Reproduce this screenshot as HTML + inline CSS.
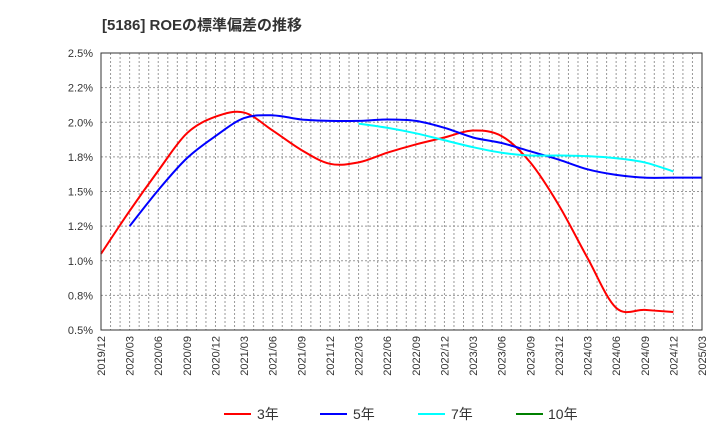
<!DOCTYPE html>
<html><head><meta charset="utf-8"><style>
body{margin:0;background:#fff;font-family:"Liberation Sans","Noto Sans CJK JP",sans-serif}
svg text{font-family:"Liberation Sans","Noto Sans CJK JP",sans-serif}
</style></head><body>
<svg id="c" width="720" height="440">
<text x="102" y="30" font-size="15" font-weight="bold" fill="#333">[5186]  ROEの標準偏差の推移</text>
<g id="grid"></g><g id="series"></g><g id="axes"></g>
<g>
<line x1="224" y1="414" x2="251" y2="414" stroke="#f00" stroke-width="2"/><text x="257" y="419" font-size="14" fill="#333">3年</text>
<line x1="320" y1="414" x2="347" y2="414" stroke="#00f" stroke-width="2"/><text x="353" y="419" font-size="14" fill="#333">5年</text>
<line x1="418" y1="414" x2="445" y2="414" stroke="#0ff" stroke-width="2"/><text x="451" y="419" font-size="14" fill="#333">7年</text>
<line x1="516" y1="414" x2="543" y2="414" stroke="#008000" stroke-width="2"/><text x="548" y="419" font-size="14" fill="#333">10年</text>
</g>
</svg>
<script>
const xLabels=["2019/12","2020/03","2020/06","2020/09","2020/12","2021/03","2021/06","2021/09","2021/12","2022/03","2022/06","2022/09","2022/12","2023/03","2023/06","2023/09","2023/12","2024/03","2024/06","2024/09","2024/12","2025/03"];
const yTicks=[0.5,0.75,1.0,1.25,1.5,1.75,2.0,2.25,2.5];
const yTickLabels=["0.5%","0.8%","1.0%","1.2%","1.5%","1.8%","2.0%","2.2%","2.5%"];
const s3=[1.05,1.36,1.65,1.92,2.04,2.07,1.94,1.80,1.70,1.71,1.78,1.84,1.89,1.94,1.90,1.71,1.40,1.02,0.66,0.645,0.63];
const s3Start=0;
const s5=[1.25,1.51,1.74,1.90,2.03,2.05,2.02,2.01,2.01,2.02,2.01,1.96,1.89,1.85,1.79,1.73,1.66,1.62,1.60,1.60,1.60];
const s5Start=1;
const s7=[1.99,1.96,1.92,1.87,1.82,1.78,1.76,1.76,1.755,1.74,1.71,1.645];
const s7Start=9;
const s10=[];
const s10Start=0;
const L=101,R=702,T=53,B=330;
const xs=i=>L+i*(R-L)/21;
const ys=v=>B-(v-0.5)/2*(B-T);
const NS="http://www.w3.org/2000/svg";
function mk(t,a,p){const e=document.createElementNS(NS,t);for(const k in a)e.setAttribute(k,a[k]);p.appendChild(e);return e;}
const grid=document.getElementById('grid'),axes=document.getElementById('axes'),ser=document.getElementById('series');
for(let m=1;m<63;m++){const x=L+m*(R-L)/63;
const g=mk('line',{x1:x,x2:x,y1:T,y2:B,stroke:'#999','stroke-dasharray':'2,2','stroke-width':1},grid);

}
yTicks.forEach((v,i)=>{const y=ys(v);
const g=mk('line',{x1:L,x2:R,y1:y,y2:y,stroke:'#999','stroke-dasharray':'2,2','stroke-width':1},grid);


const t=mk('text',{x:L-8,y:y+4,'text-anchor':'end','font-size':11,fill:'#333'},axes);t.textContent=yTickLabels[i];

});
xLabels.forEach((l,i)=>{const x=xs(i);
const t=mk('text',{x:0,y:0,'text-anchor':'end','font-size':11,fill:'#333',transform:`translate(${x+4},${B+6}) rotate(-90)`},axes);t.textContent=l;

});
const fr=mk('rect',{x:L,y:T,width:R-L,height:B-T,fill:'none',stroke:'#333','stroke-width':1},axes);


function path(d,st,col,name){if(!d.length)return;const p=d.map((v,i)=>[xs(st+i),ys(v)]);
let s=`M${p[0][0]},${p[0][1]}`;
for(let i=0;i<p.length-1;i++){const p0=p[i-1]||p[i],p1=p[i],p2=p[i+1],p3=p[i+2]||p2;
s+=` C${p1[0]+(p2[0]-p0[0])/6},${p1[1]+(p2[1]-p0[1])/6} ${p2[0]-(p3[0]-p1[0])/6},${p2[1]-(p3[1]-p1[1])/6} ${p2[0]},${p2[1]}`;}
const e=mk('path',{d:s,fill:'none',stroke:col,'stroke-width':2},ser);

}
path(s3,s3Start,'#f00','line-3y');
path(s5,s5Start,'#00f','line-5y');
path(s7,s7Start,'#0ff','line-7y');
path(s10,s10Start,'#008000','line-10y');
</script>
</body></html>
